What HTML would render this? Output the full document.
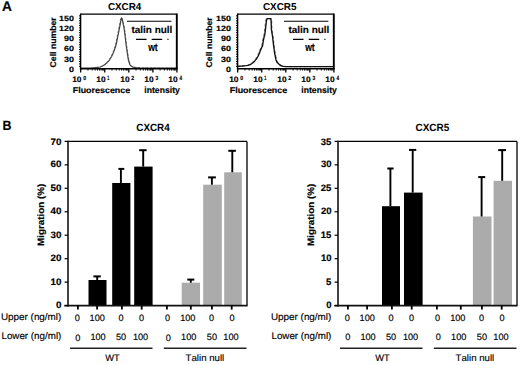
<!DOCTYPE html>
<html><head><meta charset="utf-8"><style>
html,body{margin:0;padding:0;background:#fff;}
body{width:520px;height:365px;overflow:hidden;}
svg{display:block;font-family:"Liberation Sans", sans-serif;font-kerning:none;}
text{text-rendering:geometricPrecision;}
</style></head><body>
<svg width="520" height="365" viewBox="0 0 520 365" fill="#000">
<rect width="520" height="365" fill="#fff"/>

<text font-size="13.953" font-weight="bold" stroke="#000" stroke-width="0.16" transform="translate(1.96,10.60) scale(0.9828,1)">A</text>
<text font-size="10.025" font-weight="bold" transform="translate(107.90,9.60) scale(0.9846,1)">CXCR4</text>
<polyline points="80.40,68.40 89.40,68.30 94.40,68.00 97.40,67.60 99.40,67.30 101.90,66.30 104.00,65.00 106.40,63.00 108.90,60.35 111.00,56.80 112.90,52.70 114.30,48.80 115.50,45.00 116.40,40.80 117.05,37.30 117.90,33.30 118.60,29.65 119.40,25.60 120.10,22.00 120.60,18.90 121.90,17.90 122.30,18.40 123.10,21.70 123.90,25.50 124.65,29.35 125.60,37.00 126.50,44.70 127.60,52.40 128.80,60.05 130.30,64.70 131.70,66.30 133.40,67.10 136.40,67.70 140.40,67.90 176.40,68.10" fill="none" stroke="#777" stroke-width="1.0" stroke-dasharray="2.5 1.5" stroke-linejoin="round"/>
<polyline points="81.00,68.10 90.00,68.00 95.00,67.70 98.00,67.30 100.00,67.00 102.50,66.00 104.60,64.70 107.00,62.70 109.50,60.05 111.60,56.50 113.50,52.40 114.90,48.50 116.10,44.70 117.00,40.50 117.65,37.00 118.50,33.00 119.20,29.35 120.00,25.30 120.70,21.70 121.20,18.60 121.50,17.90 121.90,18.40 122.70,21.70 123.50,25.50 124.25,29.35 125.20,37.00 126.10,44.70 127.20,52.40 128.40,60.05 129.90,64.70 131.30,66.30 133.00,67.10 136.00,67.70 140.00,67.90 176.00,68.10" fill="none" stroke="#444" stroke-width="1.2" stroke-linejoin="round"/>
<line x1="80.60" y1="14.10" x2="176.80" y2="14.10" stroke="#000" stroke-width="1.2" />
<line x1="176.80" y1="13.50" x2="176.80" y2="68.70" stroke="#000" stroke-width="1.9" />
<line x1="80.60" y1="13.50" x2="80.60" y2="69.50" stroke="#000" stroke-width="1.4" />
<line x1="79.90" y1="68.70" x2="177.70" y2="68.70" stroke="#000" stroke-width="1.5" />
<text font-size="7.590" font-weight="bold" stroke="#000" stroke-width="0.16" transform="translate(59.04,20.55) scale(1.1790,1)">150</text>
<text font-size="7.590" font-weight="bold" stroke="#000" stroke-width="0.16" transform="translate(68.99,71.77) scale(1.1790,1)">0</text>
<text font-size="7.590" font-weight="bold" stroke="#000" stroke-width="0.16" transform="translate(64.01,61.52) scale(1.1790,1)">30</text>
<text font-size="7.590" font-weight="bold" stroke="#000" stroke-width="0.16" transform="translate(64.01,51.27) scale(1.1790,1)">60</text>
<text font-size="7.590" font-weight="bold" stroke="#000" stroke-width="0.16" transform="translate(64.01,41.02) scale(1.1790,1)">90</text>
<text font-size="7.590" font-weight="bold" stroke="#000" stroke-width="0.16" transform="translate(59.04,30.77) scale(1.1790,1)">120</text>
<line x1="79.00" y1="66.30" x2="80.60" y2="66.30" stroke="#000" stroke-width="1.0" />
<line x1="79.00" y1="63.90" x2="80.60" y2="63.90" stroke="#000" stroke-width="1.0" />
<line x1="79.00" y1="61.50" x2="80.60" y2="61.50" stroke="#000" stroke-width="1.0" />
<line x1="79.00" y1="59.10" x2="80.60" y2="59.10" stroke="#000" stroke-width="1.0" />
<line x1="79.00" y1="56.70" x2="80.60" y2="56.70" stroke="#000" stroke-width="1.0" />
<line x1="79.00" y1="54.30" x2="80.60" y2="54.30" stroke="#000" stroke-width="1.0" />
<line x1="79.00" y1="51.90" x2="80.60" y2="51.90" stroke="#000" stroke-width="1.0" />
<line x1="79.00" y1="49.50" x2="80.60" y2="49.50" stroke="#000" stroke-width="1.0" />
<line x1="79.00" y1="47.10" x2="80.60" y2="47.10" stroke="#000" stroke-width="1.0" />
<line x1="79.00" y1="44.70" x2="80.60" y2="44.70" stroke="#000" stroke-width="1.0" />
<line x1="79.00" y1="42.30" x2="80.60" y2="42.30" stroke="#000" stroke-width="1.0" />
<line x1="79.00" y1="39.90" x2="80.60" y2="39.90" stroke="#000" stroke-width="1.0" />
<line x1="79.00" y1="37.50" x2="80.60" y2="37.50" stroke="#000" stroke-width="1.0" />
<line x1="79.00" y1="35.10" x2="80.60" y2="35.10" stroke="#000" stroke-width="1.0" />
<line x1="79.00" y1="32.70" x2="80.60" y2="32.70" stroke="#000" stroke-width="1.0" />
<line x1="79.00" y1="30.30" x2="80.60" y2="30.30" stroke="#000" stroke-width="1.0" />
<line x1="79.00" y1="27.90" x2="80.60" y2="27.90" stroke="#000" stroke-width="1.0" />
<line x1="79.00" y1="25.50" x2="80.60" y2="25.50" stroke="#000" stroke-width="1.0" />
<line x1="79.00" y1="23.10" x2="80.60" y2="23.10" stroke="#000" stroke-width="1.0" />
<line x1="79.00" y1="20.70" x2="80.60" y2="20.70" stroke="#000" stroke-width="1.0" />
<line x1="79.00" y1="18.30" x2="80.60" y2="18.30" stroke="#000" stroke-width="1.0" />
<line x1="79.00" y1="15.90" x2="80.60" y2="15.90" stroke="#000" stroke-width="1.0" />
<line x1="80.70" y1="68.70" x2="80.70" y2="72.50" stroke="#000" stroke-width="1.3" />
<line x1="87.94" y1="68.70" x2="87.94" y2="70.60" stroke="#000" stroke-width="0.9" />
<line x1="92.17" y1="68.70" x2="92.17" y2="70.60" stroke="#000" stroke-width="0.9" />
<line x1="95.18" y1="68.70" x2="95.18" y2="70.60" stroke="#000" stroke-width="0.9" />
<line x1="97.51" y1="68.70" x2="97.51" y2="70.60" stroke="#000" stroke-width="0.9" />
<line x1="99.41" y1="68.70" x2="99.41" y2="70.60" stroke="#000" stroke-width="0.9" />
<line x1="101.02" y1="68.70" x2="101.02" y2="70.60" stroke="#000" stroke-width="0.9" />
<line x1="102.42" y1="68.70" x2="102.42" y2="70.60" stroke="#000" stroke-width="0.9" />
<line x1="103.65" y1="68.70" x2="103.65" y2="70.60" stroke="#000" stroke-width="0.9" />
<text font-size="7.877" font-weight="bold" stroke="#000" stroke-width="0.16" transform="translate(72.17,82.10) scale(1.0702,1)">10</text>
<text font-size="6.158" font-weight="bold" stroke="#000" stroke-width="0.16" transform="translate(83.24,80.35) scale(0.8536,1)">0</text>
<line x1="104.75" y1="68.70" x2="104.75" y2="72.50" stroke="#000" stroke-width="1.3" />
<line x1="111.99" y1="68.70" x2="111.99" y2="70.60" stroke="#000" stroke-width="0.9" />
<line x1="116.22" y1="68.70" x2="116.22" y2="70.60" stroke="#000" stroke-width="0.9" />
<line x1="119.23" y1="68.70" x2="119.23" y2="70.60" stroke="#000" stroke-width="0.9" />
<line x1="121.56" y1="68.70" x2="121.56" y2="70.60" stroke="#000" stroke-width="0.9" />
<line x1="123.46" y1="68.70" x2="123.46" y2="70.60" stroke="#000" stroke-width="0.9" />
<line x1="125.07" y1="68.70" x2="125.07" y2="70.60" stroke="#000" stroke-width="0.9" />
<line x1="126.47" y1="68.70" x2="126.47" y2="70.60" stroke="#000" stroke-width="0.9" />
<line x1="127.70" y1="68.70" x2="127.70" y2="70.60" stroke="#000" stroke-width="0.9" />
<text font-size="7.877" font-weight="bold" stroke="#000" stroke-width="0.16" transform="translate(96.22,82.10) scale(1.0702,1)">10</text>
<text font-size="6.250" font-weight="bold" stroke="#000" stroke-width="0.16" transform="translate(107.27,80.35) scale(0.5845,1)">1</text>
<line x1="128.80" y1="68.70" x2="128.80" y2="72.50" stroke="#000" stroke-width="1.3" />
<line x1="136.04" y1="68.70" x2="136.04" y2="70.60" stroke="#000" stroke-width="0.9" />
<line x1="140.27" y1="68.70" x2="140.27" y2="70.60" stroke="#000" stroke-width="0.9" />
<line x1="143.28" y1="68.70" x2="143.28" y2="70.60" stroke="#000" stroke-width="0.9" />
<line x1="145.61" y1="68.70" x2="145.61" y2="70.60" stroke="#000" stroke-width="0.9" />
<line x1="147.51" y1="68.70" x2="147.51" y2="70.60" stroke="#000" stroke-width="0.9" />
<line x1="149.12" y1="68.70" x2="149.12" y2="70.60" stroke="#000" stroke-width="0.9" />
<line x1="150.52" y1="68.70" x2="150.52" y2="70.60" stroke="#000" stroke-width="0.9" />
<line x1="151.75" y1="68.70" x2="151.75" y2="70.60" stroke="#000" stroke-width="0.9" />
<text font-size="7.877" font-weight="bold" stroke="#000" stroke-width="0.16" transform="translate(120.27,82.10) scale(1.0702,1)">10</text>
<text font-size="6.158" font-weight="bold" stroke="#000" stroke-width="0.16" transform="translate(131.37,80.35) scale(0.8432,1)">2</text>
<line x1="152.85" y1="68.70" x2="152.85" y2="72.50" stroke="#000" stroke-width="1.3" />
<line x1="160.09" y1="68.70" x2="160.09" y2="70.60" stroke="#000" stroke-width="0.9" />
<line x1="164.32" y1="68.70" x2="164.32" y2="70.60" stroke="#000" stroke-width="0.9" />
<line x1="167.33" y1="68.70" x2="167.33" y2="70.60" stroke="#000" stroke-width="0.9" />
<line x1="169.66" y1="68.70" x2="169.66" y2="70.60" stroke="#000" stroke-width="0.9" />
<line x1="171.56" y1="68.70" x2="171.56" y2="70.60" stroke="#000" stroke-width="0.9" />
<line x1="173.17" y1="68.70" x2="173.17" y2="70.60" stroke="#000" stroke-width="0.9" />
<line x1="174.57" y1="68.70" x2="174.57" y2="70.60" stroke="#000" stroke-width="0.9" />
<line x1="175.80" y1="68.70" x2="175.80" y2="70.60" stroke="#000" stroke-width="0.9" />
<text font-size="7.877" font-weight="bold" stroke="#000" stroke-width="0.16" transform="translate(144.32,82.10) scale(1.0702,1)">10</text>
<text font-size="6.158" font-weight="bold" stroke="#000" stroke-width="0.16" transform="translate(155.48,80.35) scale(0.8167,1)">3</text>
<line x1="176.90" y1="68.70" x2="176.90" y2="72.50" stroke="#000" stroke-width="1.3" />
<text font-size="7.877" font-weight="bold" stroke="#000" stroke-width="0.16" transform="translate(168.37,82.10) scale(1.0702,1)">10</text>
<text font-size="6.250" font-weight="bold" stroke="#000" stroke-width="0.16" transform="translate(179.58,80.35) scale(0.7468,1)">4</text>
<text font-size="8.430" font-weight="bold" stroke="#000" stroke-width="0.16" transform="translate(72.70,92.60) scale(1.0598,1)">Fluorescence</text>
<text font-size="8.832" font-weight="bold" stroke="#000" stroke-width="0.16" transform="translate(144.30,93.00) scale(0.9789,1)">intensity</text>
<text font-size="8.418" font-weight="bold" stroke="#000" stroke-width="0.16" transform="translate(55.70,67.10) rotate(-90) translate(-0.36,0) scale(1.0337,1)">Cell number</text>
<line x1="127.00" y1="21.20" x2="171.40" y2="21.20" stroke="#000" stroke-width="1.15" />
<text font-size="9.798" font-weight="bold" stroke="#000" stroke-width="0.16" transform="translate(131.48,33.40) scale(1.0161,1)">talin null</text>
<line x1="136.00" y1="39.40" x2="168.50" y2="39.40" stroke="#000" stroke-width="1.15" stroke-dasharray="10.5 5.2"/>
<text font-size="11.190" font-weight="bold" stroke="#000" stroke-width="0.16" transform="translate(148.13,50.50) scale(0.7707,1)">wt</text>
<text font-size="10.025" font-weight="bold" transform="translate(262.89,9.60) scale(0.9882,1)">CXCR5</text>
<polyline points="237.30,66.30 241.30,66.00 245.30,65.60 247.30,65.30 249.30,64.60 250.80,63.80 252.30,62.80 253.90,61.20 255.80,58.80 257.50,56.00 258.60,53.40 259.60,50.80 260.80,48.00 261.90,45.60 262.70,40.40 263.40,37.00 264.00,35.20 264.70,29.80 265.30,24.50 265.80,20.50 266.40,18.60 271.40,18.60 271.70,23.20 271.90,29.40 273.10,37.00 274.00,44.80 275.00,52.50 276.50,60.00 277.50,62.20 279.30,64.00 281.00,65.50 283.90,66.30 287.50,66.60 333.50,66.70" fill="none" stroke="#888" stroke-width="1.3" stroke-dasharray="3 2"/>
<polyline points="238.00,66.30 242.00,66.00 246.00,65.60 248.00,65.30 250.00,64.60 251.50,63.80 253.00,62.80 254.60,61.20 256.50,58.80 258.20,56.00 259.30,53.40 260.30,50.80 261.50,48.00 262.60,45.60 263.40,40.40 264.10,37.00 264.70,35.20 265.40,29.80 266.00,24.50 266.50,20.50 267.10,18.60 270.90,18.60 271.20,23.20 271.40,29.40 272.60,37.00 273.50,44.80 274.50,52.50 276.00,60.00 277.00,62.20 278.80,64.00 280.50,65.50 283.40,66.30 287.00,66.60 333.00,66.70" fill="none" stroke="#111" stroke-width="1.35" stroke-linejoin="round"/>
<line x1="237.60" y1="14.10" x2="333.80" y2="14.10" stroke="#000" stroke-width="1.2" />
<line x1="333.80" y1="13.50" x2="333.80" y2="68.70" stroke="#000" stroke-width="1.9" />
<line x1="237.60" y1="13.50" x2="237.60" y2="69.50" stroke="#000" stroke-width="1.4" />
<line x1="236.90" y1="68.70" x2="334.70" y2="68.70" stroke="#000" stroke-width="1.5" />
<text font-size="7.590" font-weight="bold" stroke="#000" stroke-width="0.16" transform="translate(216.04,20.55) scale(1.1790,1)">150</text>
<text font-size="7.590" font-weight="bold" stroke="#000" stroke-width="0.16" transform="translate(225.99,71.77) scale(1.1790,1)">0</text>
<text font-size="7.590" font-weight="bold" stroke="#000" stroke-width="0.16" transform="translate(221.01,61.52) scale(1.1790,1)">30</text>
<text font-size="7.590" font-weight="bold" stroke="#000" stroke-width="0.16" transform="translate(221.01,51.27) scale(1.1790,1)">60</text>
<text font-size="7.590" font-weight="bold" stroke="#000" stroke-width="0.16" transform="translate(221.01,41.02) scale(1.1790,1)">90</text>
<text font-size="7.590" font-weight="bold" stroke="#000" stroke-width="0.16" transform="translate(216.04,30.77) scale(1.1790,1)">120</text>
<line x1="236.00" y1="66.30" x2="237.60" y2="66.30" stroke="#000" stroke-width="1.0" />
<line x1="236.00" y1="63.90" x2="237.60" y2="63.90" stroke="#000" stroke-width="1.0" />
<line x1="236.00" y1="61.50" x2="237.60" y2="61.50" stroke="#000" stroke-width="1.0" />
<line x1="236.00" y1="59.10" x2="237.60" y2="59.10" stroke="#000" stroke-width="1.0" />
<line x1="236.00" y1="56.70" x2="237.60" y2="56.70" stroke="#000" stroke-width="1.0" />
<line x1="236.00" y1="54.30" x2="237.60" y2="54.30" stroke="#000" stroke-width="1.0" />
<line x1="236.00" y1="51.90" x2="237.60" y2="51.90" stroke="#000" stroke-width="1.0" />
<line x1="236.00" y1="49.50" x2="237.60" y2="49.50" stroke="#000" stroke-width="1.0" />
<line x1="236.00" y1="47.10" x2="237.60" y2="47.10" stroke="#000" stroke-width="1.0" />
<line x1="236.00" y1="44.70" x2="237.60" y2="44.70" stroke="#000" stroke-width="1.0" />
<line x1="236.00" y1="42.30" x2="237.60" y2="42.30" stroke="#000" stroke-width="1.0" />
<line x1="236.00" y1="39.90" x2="237.60" y2="39.90" stroke="#000" stroke-width="1.0" />
<line x1="236.00" y1="37.50" x2="237.60" y2="37.50" stroke="#000" stroke-width="1.0" />
<line x1="236.00" y1="35.10" x2="237.60" y2="35.10" stroke="#000" stroke-width="1.0" />
<line x1="236.00" y1="32.70" x2="237.60" y2="32.70" stroke="#000" stroke-width="1.0" />
<line x1="236.00" y1="30.30" x2="237.60" y2="30.30" stroke="#000" stroke-width="1.0" />
<line x1="236.00" y1="27.90" x2="237.60" y2="27.90" stroke="#000" stroke-width="1.0" />
<line x1="236.00" y1="25.50" x2="237.60" y2="25.50" stroke="#000" stroke-width="1.0" />
<line x1="236.00" y1="23.10" x2="237.60" y2="23.10" stroke="#000" stroke-width="1.0" />
<line x1="236.00" y1="20.70" x2="237.60" y2="20.70" stroke="#000" stroke-width="1.0" />
<line x1="236.00" y1="18.30" x2="237.60" y2="18.30" stroke="#000" stroke-width="1.0" />
<line x1="236.00" y1="15.90" x2="237.60" y2="15.90" stroke="#000" stroke-width="1.0" />
<line x1="237.70" y1="68.70" x2="237.70" y2="72.50" stroke="#000" stroke-width="1.3" />
<line x1="244.94" y1="68.70" x2="244.94" y2="70.60" stroke="#000" stroke-width="0.9" />
<line x1="249.17" y1="68.70" x2="249.17" y2="70.60" stroke="#000" stroke-width="0.9" />
<line x1="252.18" y1="68.70" x2="252.18" y2="70.60" stroke="#000" stroke-width="0.9" />
<line x1="254.51" y1="68.70" x2="254.51" y2="70.60" stroke="#000" stroke-width="0.9" />
<line x1="256.41" y1="68.70" x2="256.41" y2="70.60" stroke="#000" stroke-width="0.9" />
<line x1="258.02" y1="68.70" x2="258.02" y2="70.60" stroke="#000" stroke-width="0.9" />
<line x1="259.42" y1="68.70" x2="259.42" y2="70.60" stroke="#000" stroke-width="0.9" />
<line x1="260.65" y1="68.70" x2="260.65" y2="70.60" stroke="#000" stroke-width="0.9" />
<text font-size="7.877" font-weight="bold" stroke="#000" stroke-width="0.16" transform="translate(229.17,82.10) scale(1.0702,1)">10</text>
<text font-size="6.158" font-weight="bold" stroke="#000" stroke-width="0.16" transform="translate(240.24,80.35) scale(0.8536,1)">0</text>
<line x1="261.75" y1="68.70" x2="261.75" y2="72.50" stroke="#000" stroke-width="1.3" />
<line x1="268.99" y1="68.70" x2="268.99" y2="70.60" stroke="#000" stroke-width="0.9" />
<line x1="273.22" y1="68.70" x2="273.22" y2="70.60" stroke="#000" stroke-width="0.9" />
<line x1="276.23" y1="68.70" x2="276.23" y2="70.60" stroke="#000" stroke-width="0.9" />
<line x1="278.56" y1="68.70" x2="278.56" y2="70.60" stroke="#000" stroke-width="0.9" />
<line x1="280.46" y1="68.70" x2="280.46" y2="70.60" stroke="#000" stroke-width="0.9" />
<line x1="282.07" y1="68.70" x2="282.07" y2="70.60" stroke="#000" stroke-width="0.9" />
<line x1="283.47" y1="68.70" x2="283.47" y2="70.60" stroke="#000" stroke-width="0.9" />
<line x1="284.70" y1="68.70" x2="284.70" y2="70.60" stroke="#000" stroke-width="0.9" />
<text font-size="7.877" font-weight="bold" stroke="#000" stroke-width="0.16" transform="translate(253.22,82.10) scale(1.0702,1)">10</text>
<text font-size="6.250" font-weight="bold" stroke="#000" stroke-width="0.16" transform="translate(264.27,80.35) scale(0.5845,1)">1</text>
<line x1="285.80" y1="68.70" x2="285.80" y2="72.50" stroke="#000" stroke-width="1.3" />
<line x1="293.04" y1="68.70" x2="293.04" y2="70.60" stroke="#000" stroke-width="0.9" />
<line x1="297.27" y1="68.70" x2="297.27" y2="70.60" stroke="#000" stroke-width="0.9" />
<line x1="300.28" y1="68.70" x2="300.28" y2="70.60" stroke="#000" stroke-width="0.9" />
<line x1="302.61" y1="68.70" x2="302.61" y2="70.60" stroke="#000" stroke-width="0.9" />
<line x1="304.51" y1="68.70" x2="304.51" y2="70.60" stroke="#000" stroke-width="0.9" />
<line x1="306.12" y1="68.70" x2="306.12" y2="70.60" stroke="#000" stroke-width="0.9" />
<line x1="307.52" y1="68.70" x2="307.52" y2="70.60" stroke="#000" stroke-width="0.9" />
<line x1="308.75" y1="68.70" x2="308.75" y2="70.60" stroke="#000" stroke-width="0.9" />
<text font-size="7.877" font-weight="bold" stroke="#000" stroke-width="0.16" transform="translate(277.27,82.10) scale(1.0702,1)">10</text>
<text font-size="6.158" font-weight="bold" stroke="#000" stroke-width="0.16" transform="translate(288.37,80.35) scale(0.8432,1)">2</text>
<line x1="309.85" y1="68.70" x2="309.85" y2="72.50" stroke="#000" stroke-width="1.3" />
<line x1="317.09" y1="68.70" x2="317.09" y2="70.60" stroke="#000" stroke-width="0.9" />
<line x1="321.32" y1="68.70" x2="321.32" y2="70.60" stroke="#000" stroke-width="0.9" />
<line x1="324.33" y1="68.70" x2="324.33" y2="70.60" stroke="#000" stroke-width="0.9" />
<line x1="326.66" y1="68.70" x2="326.66" y2="70.60" stroke="#000" stroke-width="0.9" />
<line x1="328.56" y1="68.70" x2="328.56" y2="70.60" stroke="#000" stroke-width="0.9" />
<line x1="330.17" y1="68.70" x2="330.17" y2="70.60" stroke="#000" stroke-width="0.9" />
<line x1="331.57" y1="68.70" x2="331.57" y2="70.60" stroke="#000" stroke-width="0.9" />
<line x1="332.80" y1="68.70" x2="332.80" y2="70.60" stroke="#000" stroke-width="0.9" />
<text font-size="7.877" font-weight="bold" stroke="#000" stroke-width="0.16" transform="translate(301.32,82.10) scale(1.0702,1)">10</text>
<text font-size="6.158" font-weight="bold" stroke="#000" stroke-width="0.16" transform="translate(312.48,80.35) scale(0.8167,1)">3</text>
<line x1="333.90" y1="68.70" x2="333.90" y2="72.50" stroke="#000" stroke-width="1.3" />
<text font-size="7.877" font-weight="bold" stroke="#000" stroke-width="0.16" transform="translate(325.37,82.10) scale(1.0702,1)">10</text>
<text font-size="6.250" font-weight="bold" stroke="#000" stroke-width="0.16" transform="translate(336.58,80.35) scale(0.7468,1)">4</text>
<text font-size="8.430" font-weight="bold" stroke="#000" stroke-width="0.16" transform="translate(229.70,92.60) scale(1.0598,1)">Fluorescence</text>
<text font-size="8.832" font-weight="bold" stroke="#000" stroke-width="0.16" transform="translate(301.30,93.00) scale(0.9789,1)">intensity</text>
<text font-size="8.418" font-weight="bold" stroke="#000" stroke-width="0.16" transform="translate(212.07,67.10) rotate(-90) translate(-0.36,0) scale(1.0337,1)">Cell number</text>
<line x1="284.00" y1="21.20" x2="328.40" y2="21.20" stroke="#000" stroke-width="1.15" />
<text font-size="9.798" font-weight="bold" stroke="#000" stroke-width="0.16" transform="translate(288.48,33.40) scale(1.0161,1)">talin null</text>
<line x1="293.00" y1="39.40" x2="325.50" y2="39.40" stroke="#000" stroke-width="1.15" stroke-dasharray="10.5 5.2"/>
<text font-size="11.190" font-weight="bold" stroke="#000" stroke-width="0.16" transform="translate(305.13,50.50) scale(0.7707,1)">wt</text>
<text font-size="13.445" font-weight="bold" stroke="#000" stroke-width="0.16" transform="translate(2.42,129.50) scale(0.9208,1)">B</text>
<text font-size="10.455" font-weight="bold" transform="translate(136.30,130.60) scale(0.9441,1)">CXCR4</text>
<rect x="88.50" y="280.00" width="18.00" height="25.60" fill="#000"/>
<rect x="112.20" y="183.00" width="18.20" height="122.60" fill="#000"/>
<rect x="134.20" y="166.60" width="18.40" height="139.00" fill="#000"/>
<rect x="181.70" y="282.70" width="18.30" height="22.90" fill="#ababab"/>
<rect x="203.20" y="184.70" width="18.60" height="120.90" fill="#ababab"/>
<rect x="224.20" y="172.30" width="17.60" height="133.30" fill="#ababab"/>
<line x1="97.20" y1="280.00" x2="97.20" y2="276.40" stroke="#000" stroke-width="1.9" />
<line x1="93.40" y1="276.40" x2="100.80" y2="276.40" stroke="#000" stroke-width="2.0" />
<line x1="120.90" y1="183.00" x2="120.90" y2="168.90" stroke="#000" stroke-width="1.9" />
<line x1="118.40" y1="168.90" x2="124.30" y2="168.90" stroke="#000" stroke-width="2.0" />
<line x1="143.20" y1="166.60" x2="143.20" y2="150.20" stroke="#000" stroke-width="1.9" />
<line x1="139.20" y1="150.20" x2="146.60" y2="150.20" stroke="#000" stroke-width="2.0" />
<line x1="190.80" y1="282.70" x2="190.80" y2="279.60" stroke="#000" stroke-width="1.9" />
<line x1="187.30" y1="279.60" x2="194.30" y2="279.60" stroke="#000" stroke-width="2.0" />
<line x1="211.90" y1="184.70" x2="211.90" y2="177.40" stroke="#000" stroke-width="1.9" />
<line x1="208.10" y1="177.40" x2="215.90" y2="177.40" stroke="#000" stroke-width="2.0" />
<line x1="232.30" y1="172.30" x2="232.30" y2="150.80" stroke="#000" stroke-width="1.9" />
<line x1="228.30" y1="150.80" x2="235.90" y2="150.80" stroke="#000" stroke-width="2.0" />
<line x1="68.00" y1="141.40" x2="247.00" y2="141.40" stroke="#000" stroke-width="1.2" />
<line x1="247.00" y1="141.40" x2="247.00" y2="305.60" stroke="#000" stroke-width="1.3" />
<line x1="68.00" y1="140.80" x2="68.00" y2="306.40" stroke="#222" stroke-width="1.7" />
<line x1="64.40" y1="305.60" x2="247.60" y2="305.60" stroke="#111" stroke-width="1.7" />
<text font-size="9.309" font-weight="bold" stroke="#000" stroke-width="0.16" transform="translate(50.58,144.50) scale(1.0551,1)">70</text>
<line x1="64.60" y1="305.60" x2="68.00" y2="305.60" stroke="#000" stroke-width="1.2" />
<text font-size="9.309" font-weight="bold" stroke="#000" stroke-width="0.16" transform="translate(56.04,308.15) scale(1.0551,1)">0</text>
<line x1="64.60" y1="282.14" x2="68.00" y2="282.14" stroke="#000" stroke-width="1.2" />
<text font-size="9.309" font-weight="bold" stroke="#000" stroke-width="0.16" transform="translate(50.58,284.69) scale(1.0551,1)">10</text>
<line x1="64.60" y1="258.69" x2="68.00" y2="258.69" stroke="#000" stroke-width="1.2" />
<text font-size="9.309" font-weight="bold" stroke="#000" stroke-width="0.16" transform="translate(50.58,261.24) scale(1.0551,1)">20</text>
<line x1="64.60" y1="235.23" x2="68.00" y2="235.23" stroke="#000" stroke-width="1.2" />
<text font-size="9.309" font-weight="bold" stroke="#000" stroke-width="0.16" transform="translate(50.58,237.78) scale(1.0551,1)">30</text>
<line x1="64.60" y1="211.77" x2="68.00" y2="211.77" stroke="#000" stroke-width="1.2" />
<text font-size="9.309" font-weight="bold" stroke="#000" stroke-width="0.16" transform="translate(50.58,214.32) scale(1.0551,1)">40</text>
<line x1="64.60" y1="188.31" x2="68.00" y2="188.31" stroke="#000" stroke-width="1.2" />
<text font-size="9.309" font-weight="bold" stroke="#000" stroke-width="0.16" transform="translate(50.58,190.86) scale(1.0551,1)">50</text>
<line x1="64.60" y1="164.86" x2="68.00" y2="164.86" stroke="#000" stroke-width="1.2" />
<text font-size="9.309" font-weight="bold" stroke="#000" stroke-width="0.16" transform="translate(50.58,167.41) scale(1.0551,1)">60</text>
<line x1="64.60" y1="141.40" x2="68.00" y2="141.40" stroke="#000" stroke-width="1.2" />
<line x1="77.90" y1="305.60" x2="77.90" y2="309.60" stroke="#000" stroke-width="1.8" />
<line x1="97.10" y1="305.60" x2="97.10" y2="309.60" stroke="#000" stroke-width="1.8" />
<line x1="121.90" y1="305.60" x2="121.90" y2="309.60" stroke="#000" stroke-width="1.8" />
<line x1="141.70" y1="305.60" x2="141.70" y2="309.60" stroke="#000" stroke-width="1.8" />
<line x1="166.90" y1="305.60" x2="166.90" y2="309.60" stroke="#000" stroke-width="1.8" />
<line x1="190.80" y1="305.60" x2="190.80" y2="309.60" stroke="#000" stroke-width="1.8" />
<line x1="211.90" y1="305.60" x2="211.90" y2="309.60" stroke="#000" stroke-width="1.8" />
<line x1="231.70" y1="305.60" x2="231.70" y2="309.60" stroke="#000" stroke-width="1.8" />
<text font-size="9.302" font-weight="bold" stroke="#000" stroke-width="0.16" transform="translate(43.60,245.40) rotate(-90) translate(-0.66,0) scale(1.0602,1)">Migration (%)</text>
<text font-size="9.593" stroke="#000" stroke-width="0.15" transform="translate(0.94,320.00) scale(1.0313,1)">Upper (ng/ml)</text>
<text font-size="9.593" stroke="#000" stroke-width="0.15" transform="translate(1.45,339.40) scale(1.0226,1)">Lower (ng/ml)</text>
<text font-size="9.181" stroke="#000" stroke-width="0.15" transform="translate(74.75,321.25)">0</text>
<text font-size="9.181" stroke="#000" stroke-width="0.15" transform="translate(89.57,321.25)">100</text>
<text font-size="9.181" stroke="#000" stroke-width="0.15" transform="translate(118.55,321.25)">0</text>
<text font-size="9.181" stroke="#000" stroke-width="0.15" transform="translate(139.05,321.25)">0</text>
<text font-size="9.181" stroke="#000" stroke-width="0.15" transform="translate(165.05,321.25)">0</text>
<text font-size="9.181" stroke="#000" stroke-width="0.15" transform="translate(180.17,321.25)">100</text>
<text font-size="9.181" stroke="#000" stroke-width="0.15" transform="translate(209.10,321.25)">0</text>
<text font-size="9.181" stroke="#000" stroke-width="0.15" transform="translate(229.45,321.25)">0</text>
<text font-size="9.181" stroke="#000" stroke-width="0.15" transform="translate(75.15,340.87)">0</text>
<text font-size="9.181" stroke="#000" stroke-width="0.15" transform="translate(90.42,339.85)">100</text>
<text font-size="9.181" stroke="#000" stroke-width="0.15" transform="translate(115.94,339.85)">50</text>
<text font-size="9.181" stroke="#000" stroke-width="0.15" transform="translate(132.92,339.85)">100</text>
<text font-size="9.181" stroke="#000" stroke-width="0.15" transform="translate(165.80,340.87)">0</text>
<text font-size="9.181" stroke="#000" stroke-width="0.15" transform="translate(181.12,339.85)">100</text>
<text font-size="9.181" stroke="#000" stroke-width="0.15" transform="translate(206.84,339.85)">50</text>
<text font-size="9.181" stroke="#000" stroke-width="0.15" transform="translate(223.37,339.85)">100</text>
<line x1="70.00" y1="348.20" x2="152.50" y2="348.20" stroke="#222" stroke-width="1.5" />
<line x1="163.80" y1="348.20" x2="246.50" y2="348.20" stroke="#222" stroke-width="1.5" />
<text font-size="9.448" stroke="#000" stroke-width="0.15" transform="translate(105.26,360.75) scale(0.9841,1)">WT</text>
<text font-size="9.384" stroke="#000" stroke-width="0.15" transform="translate(185.58,360.70) scale(1.0295,1)">Talin null</text>
<text font-size="10.455" font-weight="bold" transform="translate(415.49,130.60) scale(0.9563,1)">CXCR5</text>
<rect x="382.00" y="206.20" width="18.00" height="99.40" fill="#000"/>
<rect x="404.00" y="192.60" width="18.60" height="113.00" fill="#000"/>
<rect x="472.90" y="216.50" width="18.60" height="89.10" fill="#ababab"/>
<rect x="493.60" y="180.80" width="18.40" height="124.80" fill="#ababab"/>
<line x1="390.40" y1="206.20" x2="390.40" y2="168.50" stroke="#000" stroke-width="1.9" />
<line x1="387.30" y1="168.50" x2="393.60" y2="168.50" stroke="#000" stroke-width="2.0" />
<line x1="412.70" y1="192.60" x2="412.70" y2="149.90" stroke="#000" stroke-width="1.9" />
<line x1="409.00" y1="149.90" x2="416.30" y2="149.90" stroke="#000" stroke-width="2.0" />
<line x1="481.60" y1="216.50" x2="481.60" y2="177.10" stroke="#000" stroke-width="1.9" />
<line x1="478.20" y1="177.10" x2="485.20" y2="177.10" stroke="#000" stroke-width="2.0" />
<line x1="502.20" y1="180.80" x2="502.20" y2="150.10" stroke="#000" stroke-width="1.9" />
<line x1="498.20" y1="150.10" x2="506.00" y2="150.10" stroke="#000" stroke-width="2.0" />
<line x1="338.00" y1="141.40" x2="517.00" y2="141.40" stroke="#000" stroke-width="1.2" />
<line x1="517.00" y1="141.40" x2="517.00" y2="305.60" stroke="#000" stroke-width="1.3" />
<line x1="338.00" y1="140.80" x2="338.00" y2="306.40" stroke="#222" stroke-width="1.7" />
<line x1="334.40" y1="305.60" x2="517.60" y2="305.60" stroke="#111" stroke-width="1.7" />
<text font-size="9.309" font-weight="bold" stroke="#000" stroke-width="0.16" transform="translate(320.78,144.50) scale(1.0221,1)">35</text>
<line x1="334.60" y1="305.60" x2="338.00" y2="305.60" stroke="#000" stroke-width="1.2" />
<text font-size="9.309" font-weight="bold" stroke="#000" stroke-width="0.16" transform="translate(326.20,308.15) scale(1.0221,1)">0</text>
<line x1="334.60" y1="282.14" x2="338.00" y2="282.14" stroke="#000" stroke-width="1.2" />
<text font-size="9.309" font-weight="bold" stroke="#000" stroke-width="0.16" transform="translate(326.07,284.69) scale(1.0221,1)">5</text>
<line x1="334.60" y1="258.69" x2="338.00" y2="258.69" stroke="#000" stroke-width="1.2" />
<text font-size="9.309" font-weight="bold" stroke="#000" stroke-width="0.16" transform="translate(320.91,261.24) scale(1.0221,1)">10</text>
<line x1="334.60" y1="235.23" x2="338.00" y2="235.23" stroke="#000" stroke-width="1.2" />
<text font-size="9.309" font-weight="bold" stroke="#000" stroke-width="0.16" transform="translate(320.78,237.78) scale(1.0221,1)">15</text>
<line x1="334.60" y1="211.77" x2="338.00" y2="211.77" stroke="#000" stroke-width="1.2" />
<text font-size="9.309" font-weight="bold" stroke="#000" stroke-width="0.16" transform="translate(320.91,214.32) scale(1.0221,1)">20</text>
<line x1="334.60" y1="188.31" x2="338.00" y2="188.31" stroke="#000" stroke-width="1.2" />
<text font-size="9.309" font-weight="bold" stroke="#000" stroke-width="0.16" transform="translate(320.78,190.86) scale(1.0221,1)">25</text>
<line x1="334.60" y1="164.86" x2="338.00" y2="164.86" stroke="#000" stroke-width="1.2" />
<text font-size="9.309" font-weight="bold" stroke="#000" stroke-width="0.16" transform="translate(320.91,167.41) scale(1.0221,1)">30</text>
<line x1="334.60" y1="141.40" x2="338.00" y2="141.40" stroke="#000" stroke-width="1.2" />
<line x1="347.90" y1="305.60" x2="347.90" y2="309.60" stroke="#000" stroke-width="1.8" />
<line x1="367.10" y1="305.60" x2="367.10" y2="309.60" stroke="#000" stroke-width="1.8" />
<line x1="391.90" y1="305.60" x2="391.90" y2="309.60" stroke="#000" stroke-width="1.8" />
<line x1="411.70" y1="305.60" x2="411.70" y2="309.60" stroke="#000" stroke-width="1.8" />
<line x1="436.90" y1="305.60" x2="436.90" y2="309.60" stroke="#000" stroke-width="1.8" />
<line x1="460.80" y1="305.60" x2="460.80" y2="309.60" stroke="#000" stroke-width="1.8" />
<line x1="481.90" y1="305.60" x2="481.90" y2="309.60" stroke="#000" stroke-width="1.8" />
<line x1="501.70" y1="305.60" x2="501.70" y2="309.60" stroke="#000" stroke-width="1.8" />
<text font-size="9.302" font-weight="bold" stroke="#000" stroke-width="0.16" transform="translate(313.60,245.40) rotate(-90) translate(-0.66,0) scale(1.0602,1)">Migration (%)</text>
<text font-size="9.593" stroke="#000" stroke-width="0.15" transform="translate(270.94,320.00) scale(1.0313,1)">Upper (ng/ml)</text>
<text font-size="9.593" stroke="#000" stroke-width="0.15" transform="translate(271.45,339.40) scale(1.0226,1)">Lower (ng/ml)</text>
<text font-size="9.181" stroke="#000" stroke-width="0.15" transform="translate(344.75,321.25)">0</text>
<text font-size="9.181" stroke="#000" stroke-width="0.15" transform="translate(359.57,321.25)">100</text>
<text font-size="9.181" stroke="#000" stroke-width="0.15" transform="translate(388.55,321.25)">0</text>
<text font-size="9.181" stroke="#000" stroke-width="0.15" transform="translate(409.05,321.25)">0</text>
<text font-size="9.181" stroke="#000" stroke-width="0.15" transform="translate(435.05,321.25)">0</text>
<text font-size="9.181" stroke="#000" stroke-width="0.15" transform="translate(450.17,321.25)">100</text>
<text font-size="9.181" stroke="#000" stroke-width="0.15" transform="translate(479.10,321.25)">0</text>
<text font-size="9.181" stroke="#000" stroke-width="0.15" transform="translate(499.45,321.25)">0</text>
<text font-size="9.181" stroke="#000" stroke-width="0.15" transform="translate(345.15,340.45)">0</text>
<text font-size="9.181" stroke="#000" stroke-width="0.15" transform="translate(360.42,339.85)">100</text>
<text font-size="9.181" stroke="#000" stroke-width="0.15" transform="translate(385.94,339.85)">50</text>
<text font-size="9.181" stroke="#000" stroke-width="0.15" transform="translate(402.92,339.85)">100</text>
<text font-size="9.181" stroke="#000" stroke-width="0.15" transform="translate(435.80,340.45)">0</text>
<text font-size="9.181" stroke="#000" stroke-width="0.15" transform="translate(451.12,339.85)">100</text>
<text font-size="9.181" stroke="#000" stroke-width="0.15" transform="translate(476.84,339.85)">50</text>
<text font-size="9.181" stroke="#000" stroke-width="0.15" transform="translate(493.37,339.85)">100</text>
<line x1="340.00" y1="348.20" x2="422.50" y2="348.20" stroke="#222" stroke-width="1.5" />
<line x1="433.80" y1="348.20" x2="516.50" y2="348.20" stroke="#222" stroke-width="1.5" />
<text font-size="9.448" stroke="#000" stroke-width="0.15" transform="translate(375.26,360.75) scale(0.9841,1)">WT</text>
<text font-size="9.384" stroke="#000" stroke-width="0.15" transform="translate(455.58,360.70) scale(1.0295,1)">Talin null</text>
</svg>
</body></html>
